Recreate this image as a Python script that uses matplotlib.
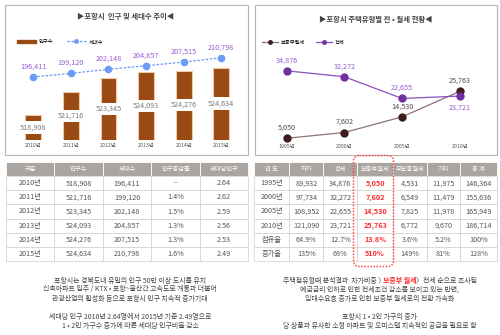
import matplotlib
matplotlib.use('Agg')
import matplotlib.pyplot as plt
from matplotlib.patches import Rectangle, FancyBboxPatch, Patch
from matplotlib.lines import Line2D

plt.rcParams['font.family'] = ['Noto Sans CJK KR', 'DejaVu Sans']

# ---------------- data ----------------
pop_years = ['2010년', '2011년', '2012년', '2013년', '2014년', '2015년']
population = [518908, 521716, 523345, 524093, 524276, 524634]
households = [196411, 199120, 202148, 204857, 207515, 210798]
pop_growth = ['–', '1.4%', '1.5%', '1.3%', '1.3%', '1.6%']
per_household = ['2.64', '2.62', '2.59', '2.56', '2.53', '2.49']
pop_headers = ['구분', '인구수', '세대수', '인구증감률', '세대당인구']

house_years = ['1995년', '2000년', '2005년', '2010년']
owned = [89932, 97734, 108952, 121090]
jeonse = [34876, 32272, 22655, 23721]
deposit_monthly = [5050, 7602, 14530, 25763]
nodeposit_monthly = [4531, 6549, 7825, 6772]
other = [11975, 11479, 11978, 9670]
total = [146364, 155636, 165949, 186714]
share_row = ['점유율', '64.9%', '12.7%', '13.8%', '3.6%', '5.2%', '100%']
increase_row = ['증가율', '135%', '68%', '510%', '149%', '81%', '128%']
house_headers = ['연 도', '자가', '전세', '보증부월세', '무보증월세', '기타', '총 계']

left_notes = ['포항시는 경북도내 유일의 인구 50만 이상 도시를 유지',
              '신축아파트 입주 / KTX • 포항~울산간 고속도로 개통과 더불어',
              '관광산업의 활성화 등으로 포항시 인구 지속적 증가기대',
              '',
              '세대당 인구 2010년 2.64명에서 2015년 기준 2.49명으로',
              '1 • 2인 가구수 증가에 따른 세대당 인구비율 감소']
right_first = ['주택점유형태 분석결과  자가비중 〉', '보증부 월세', '〉전세 순으로 조사됨']
right_notes = ['예금금리 인하로 인한 전세조건 감소를 보이고 있는 반면,',
               '임대수요층 증가로 인한 보증부 월세로의 전환 가속화',
               '',
               '포항시 1 • 2인 가구의 증가',
               '당 상품과 유사한 소형 아파트 및 오피스텔 지속적인 공급을 필요로 함']

# ---------------- styles ----------------
W, H = 500, 335
BROWN = '#9a4a12'
BLUE = '#6a9cf6'
PURPLE_LBL = '#9a5bd0'
HEADER = '#aaa5a1'
BODY_TXT = '#555555'
RED = '#ff2b2b'

fig = plt.figure(figsize=(W / 100, H / 100), dpi=100)
fig.patch.set_facecolor('white')


def ax_px(x0, y0, x1, y1):
    return fig.add_axes([x0 / W, 1 - y1 / H, (x1 - x0) / W, (y1 - y0) / H])


# background axes in pixel coordinates
bg = fig.add_axes([0, 0, 1, 1])
bg.set_xlim(0, W)
bg.set_ylim(H, 0)
bg.axis('off')
for x0, x1 in [(5, 248), (255, 497)]:
    bg.add_patch(Rectangle((x0, 5), x1 - x0, 150, fill=False, ec='#b5b5b5', lw=0.8))
bg.text(126, 16.5, '▶포항시  인구 및 세대수 추이◀', ha='center', va='center',
        fontsize=5.3, color='#444444', fontweight='bold')
bg.text(376, 19.5, '▶포항시 주택유형별 전 • 월세 현황◀', ha='center', va='center',
        fontsize=5.3, color='#444444', fontweight='bold')


def clean(ax):
    for s in ax.spines.values():
        s.set_visible(False)
    ax.set_yticks([])
    ax.patch.set_alpha(0)


# ---------------- chart 1 ----------------
ax1 = ax_px(14.5, 54.5, 240.1, 139.5)
x1 = list(range(len(pop_years)))
ax1.bar(x1, population, width=0.42, color=BROWN, edgecolor='#ecc9a6', linewidth=0.8, zorder=2)
ax1.set_ylim(516000, 526200)
ax1.set_xlim(-0.5, len(pop_years) - 0.5)
for i, v in enumerate(population):
    ax1.text(i, (516000 + v) / 2, f'{v:,}', ha='center', va='center', fontsize=5.2,
             color='#7a7a7a', zorder=3,
             bbox=dict(boxstyle='square,pad=0.3', fc='white', ec='none'))
ax1.set_xticks(x1)
ax1.set_xticklabels(pop_years, fontsize=3.8, color='#555555')
ax1.tick_params(axis='x', length=0, pad=2.5)
clean(ax1)

ax1b = ax1.twinx()
ax1b.plot(x1, households, color=BLUE, ls=(0, (2, 1.3)), lw=0.9, marker='o', ms=4.5,
          mfc=BLUE, mec=BLUE, zorder=4)
ax1b.set_ylim(149800, 213200)
for i, v in enumerate(households):
    ax1b.annotate(f'{v:,}', (i, v), xytext=(0, 7.5), textcoords='offset points',
                  ha='center', va='center', fontsize=5.2, color=PURPLE_LBL)
clean(ax1b)

fig.legend([Patch(fc=BROWN, ec=BROWN),
            Line2D([], [], color=BLUE, ls=(0, (2, 1.3)), lw=0.9, marker='o', ms=2.5)],
           ['인구수', '세대수'], loc='center left', bbox_to_anchor=(17 / W, 1 - 41.7 / H),
           ncol=2, frameon=False, fontsize=3.8, handlelength=3.6, handleheight=0.7,
           handletextpad=0.5, columnspacing=2.6, borderaxespad=0, borderpad=0)

# ---------------- chart 2 ----------------
DEP_LINE = '#8e7272'
DEP_MARK = '#3c1c1c'
JS_LINE = '#8a4fc0'
JS_MARK = '#7030a0'
ax2 = ax_px(257.9, 50, 488.5, 142)
x2 = list(range(len(house_years)))
ax2.plot(x2, deposit_monthly, color=DEP_LINE, lw=0.9, marker='o', ms=5,
         mfc=DEP_MARK, mec=DEP_MARK, zorder=3)
ax2.plot(x2, jeonse, color=JS_LINE, lw=0.9, marker='o', ms=5,
         mfc=JS_MARK, mec=JS_MARK, zorder=3)
ax2.set_ylim(3400, 44100)
ax2.set_xlim(-0.5, len(house_years) - 0.5)
for i, v in enumerate(deposit_monthly):
    ax2.annotate(f'{v:,}', (i, v), xytext=(0, 7.5), textcoords='offset points',
                 ha='center', va='center', fontsize=5.2, color='#5a4848')
for i, v in enumerate(jeonse):
    off = -8 if i == len(jeonse) - 1 else 7.5
    ax2.annotate(f'{v:,}', (i, v), xytext=(0, off), textcoords='offset points',
                 ha='center', va='center', fontsize=5.2, color=PURPLE_LBL)
ax2.set_xticks(x2)
ax2.set_xticklabels(house_years, fontsize=3.8, color='#555555')
ax2.tick_params(axis='x', length=0, pad=1.5)
clean(ax2)

fig.legend([Line2D([], [], color=DEP_LINE, lw=0.9, marker='o', ms=2.5, mfc=DEP_MARK, mec=DEP_MARK),
            Line2D([], [], color=JS_LINE, lw=0.9, marker='o', ms=2.5, mfc=JS_MARK, mec=JS_MARK)],
           ['보증부월세', '전세'], loc='center left', bbox_to_anchor=(262 / W, 1 - 42.3 / H),
           ncol=2, frameon=False, fontsize=3.8, handlelength=3.0,
           handletextpad=0.5, columnspacing=2.2, borderaxespad=0, borderpad=0)


# ---------------- tables ----------------
def make_table(box, headers, rows, col_widths, red_col=None):
    ax = ax_px(*box)
    ax.axis('off')
    tbl = ax.table(cellText=rows, colLabels=headers, colWidths=col_widths,
                   cellLoc='center', bbox=[0, 0, 1, 1])
    tbl.auto_set_font_size(False)
    for (r, c), cell in tbl.get_celld().items():
        cell.set_linewidth(0.6)
        t = cell.get_text()
        if r == 0:
            cell.set_facecolor(HEADER)
            cell.set_edgecolor('white')
            t.set_color('white')
            t.set_fontsize(4.5)
        else:
            cell.set_facecolor('white')
            cell.set_edgecolor('#d6d6d6')
            t.set_color(BODY_TXT)
            t.set_fontsize(5.2)
            if c == red_col:
                t.set_color(RED)
                t.set_fontweight('bold')
    return tbl


pop_rows = [[y, f'{p:,}', f'{h:,}', g, q]
            for y, p, h, g, q in zip(pop_years, population, households, pop_growth, per_household)]
make_table((6, 162, 248, 261), pop_headers, pop_rows, [1, 1, 1, 1, 1])

house_rows = [[y, f'{a:,}', f'{b:,}', f'{c:,}', f'{d:,}', f'{e:,}', f'{f:,}']
              for y, a, b, c, d, e, f in zip(house_years, owned, jeonse, deposit_monthly,
                                               nodeposit_monthly, other, total)]
house_rows += [share_row, increase_row]
make_table((254, 162, 497, 261), house_headers, house_rows,
           [35.3, 34, 34, 36, 33.4, 33.3, 37], red_col=3)

# ---------------- overlay ----------------
ov = fig.add_axes([0, 0, 1, 1])
ov.set_xlim(0, W)
ov.set_ylim(H, 0)
ov.axis('off')
ov.patch.set_alpha(0)
ov.add_patch(FancyBboxPatch((353.5, 155.5), 40, 111, boxstyle='round,pad=0,rounding_size=6',
                            fill=False, ec='#ff4a4a', lw=1.1, ls=(0, (1, 1))))

ys = [280.5, 289.5, 298.5, 307.5, 316.7, 325.8]
for y, line in zip(ys, left_notes):
    if line:
        ov.text(130, y, line, ha='center', va='center', fontsize=5.0, color='#444444')

a = ov.text(278, ys[0], right_first[0], ha='left', va='center', fontsize=5.0, color='#444444')
b = ov.annotate(right_first[1], xy=(1, 0.5), xycoords=a, xytext=(-1.5, 0),
                textcoords='offset points', ha='left', va='center',
                fontsize=5.0, color=RED, fontweight='bold')
c = ov.annotate(right_first[2], xy=(1, 0.5), xycoords=b, xytext=(-0.5, 0),
                textcoords='offset points', ha='left', va='center',
                fontsize=5.0, color='#444444')
r = fig.canvas.get_renderer()
wtot = c.get_window_extent(r).x1 - a.get_window_extent(r).x0
a.set_x(380 - wtot / 2)
for y, line in zip(ys[1:], right_notes):
    if line:
        ov.text(380, y, line, ha='center', va='center', fontsize=5.0, color='#444444')

fig.savefig('out.png', dpi=100, facecolor='white')
